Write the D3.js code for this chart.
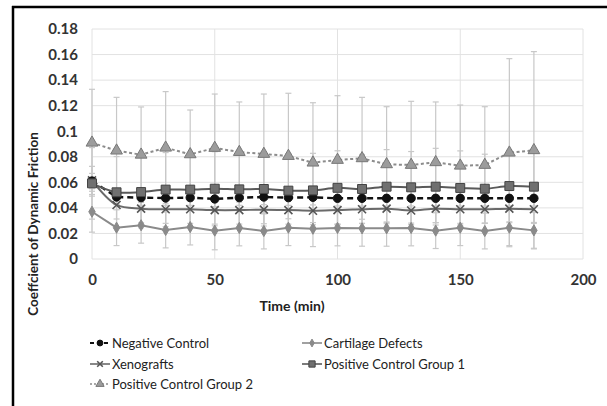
<!DOCTYPE html>
<html><head><meta charset="utf-8">
<script src="https://cdn.jsdelivr.net/npm/d3@7"></script>
<style>body{margin:0;background:#fff;} svg{display:block;font-family:Lato,"Open Sans",sans-serif;}</style>
</head><body>
<svg id="c" width="607" height="406"></svg>
<script>
const times = [0,10,20,30,40,50,60,70,80,90,100,110,120,130,140,150,160,170,180];
const negativeControl = [0.061,0.0485,0.048,0.0477,0.048,0.047,0.048,0.0485,0.048,0.0483,0.0475,0.0475,0.0475,0.0475,0.0475,0.0475,0.0475,0.0475,0.0475];
const negativeControlErr = [0.006,0.006,0.006,0.006,0.006,0.006,0.006,0.006,0.006,0.006,0.006,0.006,0.006,0.006,0.006,0.006,0.006,0.006,0.006];
const cartilageDefects = [0.037,0.0245,0.0264,0.0227,0.025,0.0222,0.0243,0.0219,0.0245,0.0237,0.0243,0.024,0.024,0.0243,0.0222,0.0245,0.0219,0.0245,0.0224];
const cartilageDefectsErr = [0.016,0.014,0.014,0.014,0.014,0.015,0.014,0.014,0.014,0.014,0.014,0.014,0.014,0.014,0.014,0.014,0.014,0.014,0.014];
const xenografts = [0.0615,0.0423,0.0394,0.0389,0.0389,0.0383,0.0383,0.0386,0.0383,0.0378,0.0383,0.0389,0.0394,0.038,0.0394,0.0389,0.0389,0.0394,0.0389];
const xenograftsErr = [0.011,0.011,0.011,0.011,0.011,0.011,0.011,0.011,0.011,0.011,0.011,0.011,0.011,0.011,0.011,0.011,0.011,0.011,0.011];
const positiveControl1 = [0.0592,0.0522,0.0524,0.0543,0.0543,0.055,0.0545,0.0548,0.0535,0.0537,0.0557,0.0548,0.0566,0.0561,0.0566,0.0556,0.055,0.0571,0.0566];
const positiveControl1Err = [0.028,0.028,0.028,0.029,0.029,0.029,0.029,0.029,0.029,0.029,0.029,0.027,0.029,0.028,0.03,0.029,0.027,0.028,0.028];
const positiveControl2 = [0.091,0.0848,0.0816,0.0871,0.0819,0.0869,0.0837,0.0822,0.0806,0.0754,0.0775,0.0788,0.0741,0.0736,0.0757,0.073,0.0736,0.0832,0.0851];
const positiveControl2Err = [0.0418,0.0417,0.0374,0.0439,0.0347,0.0422,0.0392,0.0469,0.0491,0.0469,0.0503,0.0477,0.0451,0.0498,0.0472,0.0475,0.0456,0.0736,0.0772];
const yTicks = [0,0.02,0.04,0.06,0.08,0.1,0.12,0.14,0.16,0.18];
const xTicks = [0,50,100,150,200];
const seriesNames = ["Negative Control","Cartilage Defects","Xenografts","Positive Control Group 1","Positive Control Group 2"];

const svg = d3.select("#c");
const x = d3.scaleLinear().domain([0,200]).range([92,583]);
const y = d3.scaleLinear().domain([0,0.18]).range([259,29]);

// frame
svg.append("line").attr("x1",13).attr("x2",13).attr("y1",6).attr("y2",406).attr("stroke","#000").attr("stroke-width",2.5);
svg.append("line").attr("x1",12).attr("x2",607).attr("y1",7).attr("y2",7).attr("stroke","#000").attr("stroke-width",2.5);

// grid
const g = svg.append("g");
g.selectAll(".hg").data(yTicks).join("line").attr("x1",x(0)).attr("x2",x(200))
  .attr("y1",d=>y(d)).attr("y2",d=>y(d)).attr("stroke","#e2e2e2").attr("stroke-width",1);
g.selectAll(".vg").data(xTicks).join("line").attr("y1",y(0)).attr("y2",y(0.18))
  .attr("x1",d=>x(d)).attr("x2",d=>x(d)).attr("stroke","#e2e2e2").attr("stroke-width",1);

// axes labels via d3 axes
const yAxis = svg.append("g").attr("transform",`translate(${x(0)},0)`)
  .call(d3.axisLeft(y).tickValues(yTicks).tickSize(0).tickPadding(14).tickFormat(d=>d3.format("")(+d.toFixed(2))));
const xAxis = svg.append("g").attr("transform",`translate(0,${y(0)})`)
  .call(d3.axisBottom(x).tickValues(xTicks).tickSize(0).tickPadding(15));
[yAxis,xAxis].forEach(a=>{a.select(".domain").remove();
  a.selectAll("text").attr("font-family","Lato,sans-serif").attr("font-size",15).attr("font-weight","bold").attr("fill","#333");});

svg.append("text").attr("x",292).attr("y",311).attr("text-anchor","middle")
  .attr("font-size",14).attr("font-weight","bold").attr("fill","#222").text("Time (min)");
svg.append("text").attr("transform","translate(38,224) rotate(-90)").attr("text-anchor","middle")
  .attr("font-size",13.5).attr("font-weight","bold").attr("fill","#222").text("Coeffcient of Dynamic Friction");

const series = [
 {name:seriesNames[0], v:negativeControl, e:negativeControlErr, color:"#111", width:2.4, dash:"6,4", sym:"circle", size:55, fill:"#111", stroke:"#111", curve:d3.curveLinear},
 {name:seriesNames[1], v:cartilageDefects, e:cartilageDefectsErr, color:"#8a8a8a", width:2, dash:null, sym:"diamond", size:36, fill:"#8a8a8a", stroke:"#8a8a8a", curve:d3.curveLinear},
 {name:seriesNames[2], v:xenografts, e:xenograftsErr, color:"#6a6a6a", width:2, dash:null, sym:"x", size:0, fill:"none", stroke:"#555", curve:d3.curveCatmullRom},
 {name:seriesNames[3], v:positiveControl1, e:positiveControl1Err, color:"#5a5a5a", width:2, dash:null, sym:"square", size:80, fill:"#707070", stroke:"#444", curve:d3.curveCatmullRom},
 {name:seriesNames[4], v:positiveControl2, e:positiveControl2Err, color:"#8c8c8c", width:2, dash:"3,2.5", sym:"triangle", size:60, fill:"#9c9c9c", stroke:"#777", curve:d3.curveLinear}
];

// error bars (drawn under lines)
const eb = svg.append("g");
series.forEach(s=>{
  const d = times.map((t,i)=>({t,v:s.v[i],e:s.e[i]}));
  const gg = eb.append("g").attr("stroke","#c8c8c8").attr("stroke-width",1.2);
  gg.selectAll(".v").data(d).join("line").attr("x1",p=>x(p.t)).attr("x2",p=>x(p.t))
    .attr("y1",p=>y(p.v-p.e)).attr("y2",p=>y(p.v+p.e));
  gg.selectAll(".ct").data(d).join("line").attr("x1",p=>x(p.t)-3).attr("x2",p=>x(p.t)+3)
    .attr("y1",p=>y(p.v+p.e)).attr("y2",p=>y(p.v+p.e));
  gg.selectAll(".cb").data(d).join("line").attr("x1",p=>x(p.t)-3).attr("x2",p=>x(p.t)+3)
    .attr("y1",p=>y(p.v-p.e)).attr("y2",p=>y(p.v-p.e));
});

function drawMarker(sel, s, cx, cy, scale){
  if(s.sym==="x"){
    const r=4*scale;
    sel.append("path").attr("d",`M${cx-r},${cy-r}L${cx+r},${cy+r}M${cx-r},${cy+r}L${cx+r},${cy-r}`)
      .attr("stroke",s.stroke).attr("stroke-width",1.6).attr("fill","none");
    return;
  }
  const type = {circle:d3.symbolCircle,diamond:d3.symbolDiamond,square:d3.symbolSquare,triangle:d3.symbolTriangle}[s.sym];
  sel.append("path").attr("d",d3.symbol().type(type).size(s.size*scale*scale)())
    .attr("transform",`translate(${cx},${cy})`).attr("fill",s.fill).attr("stroke",s.stroke).attr("stroke-width",1);
}

const order = [1,2,0,3,4];
order.forEach(k=>{
  const s = series[k];
  const line = d3.line().x((d,i)=>x(times[i])).y(d=>y(d)).curve(s.curve);
  svg.append("path").datum(s.v).attr("d",line).attr("fill","none").attr("stroke",s.color)
    .attr("stroke-width",s.width).attr("stroke-dasharray",s.dash);
  const mg = svg.append("g");
  s.v.forEach((v,i)=>drawMarker(mg,s,x(times[i]),y(v),1));
});

// legend
const legPos = [[90,343],[302,343],[90,364],[302,364],[90,384]];
series.forEach((s,i)=>{
  const [lx,ly]=legPos[i];
  const lg = svg.append("g");
  lg.append("line").attr("x1",lx).attr("x2",lx+20).attr("y1",ly).attr("y2",ly)
    .attr("stroke",s.color).attr("stroke-width",s.width*0.8).attr("stroke-dasharray",s.dash? (s.sym==="circle"?"4,3":"2,2"):null);
  drawMarker(lg,s,lx+10,ly,0.7);
  lg.append("text").attr("x",lx+22).attr("y",ly+5).attr("font-size",13).attr("fill","#222").text(s.name);
});
</script>
</body></html>
